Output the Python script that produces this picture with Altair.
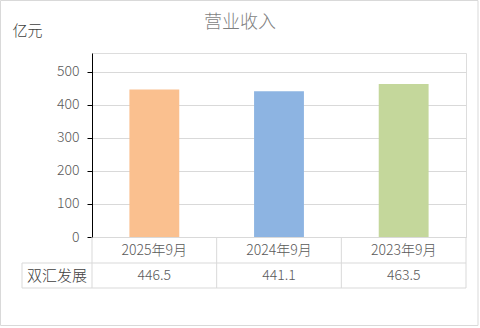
import altair as alt
import pandas as pd

categories = ["2025年9月", "2024年9月", "2023年9月"]
values = [446.5, 441.1, 463.5]
colors = ["#FAC08F", "#8DB4E2", "#C4D79B"]
series_name = "双汇发展"
y_ticks = [0, 100, 200, 300, 400, 500]

df = pd.DataFrame({"cat": categories, "val": values})

FONT = "Noto Sans CJK SC"
W, H = 374, 184

x_enc = alt.X("cat:N", sort=categories,
              scale=alt.Scale(paddingInner=0.6, paddingOuter=0.3),
              axis=alt.Axis(title=None, labelAngle=0, ticks=False, domain=True,
                            domainColor="#D9D9D9", labelPadding=6,
                            labelFontSize=14, labelColor="#595959", labelFont=FONT,
                            labelFontWeight=300))

bars = alt.Chart(df).mark_bar().encode(
    x=x_enc,
    y=alt.Y("val:Q", scale=alt.Scale(domain=[0, 557], nice=False),
            axis=alt.Axis(values=y_ticks, title="亿元", titleAngle=0,
                          titleX=-65, titleY=-23, titleAlign="center",
                          titleBaseline="middle", titleFontSize=15,
                          titleFontWeight=300, titleColor="#404040",
                          titleFont=FONT,
                          domainColor="#000000", tickColor="#000000", tickSize=5,
                          labelPadding=8, labelFontSize=14, labelColor="#595959",
                          labelFont=FONT, labelFontWeight=300, gridColor="#D9D9D9")),
    color=alt.Color("cat:N", scale=alt.Scale(domain=categories, range=colors),
                    legend=None),
)

value_text = alt.Chart(df).mark_text(fontSize=14, color="#595959", font=FONT,
                                     fontWeight=300, baseline="middle").encode(
    x=alt.X("cat:N", sort=categories),
    y=alt.value(222.5),
    text=alt.Text("val:Q", format=".1f"),
)

row_label = alt.Chart(pd.DataFrame({"name": [series_name]})).mark_text(
    fontSize=15, color="#404040", font=FONT, fontWeight=300, baseline="middle").encode(
    x=alt.value(-35), y=alt.value(222.5), text="name:N")

grid_color = "#D9D9D9"
h_lines = alt.Chart(pd.DataFrame({"i": [0]})).mark_rule(color=grid_color).encode(
    x=alt.value(-70), x2=alt.value(W), y=alt.value(210))
h_lines2 = alt.Chart(pd.DataFrame({"i": [0]})).mark_rule(color=grid_color).encode(
    x=alt.value(-70), x2=alt.value(W), y=alt.value(235))
v_left = alt.Chart(pd.DataFrame({"i": [0]})).mark_rule(color=grid_color).encode(
    x=alt.value(-70), y=alt.value(210), y2=alt.value(235))
step = W / 3
v_lines = [
    alt.Chart(pd.DataFrame({"i": [0]})).mark_rule(color=grid_color).encode(
        x=alt.value(k * step), y=alt.value(H), y2=alt.value(235))
    for k in range(4)
]

border = alt.Chart(pd.DataFrame({"i": [0]})).mark_rect(
    fill=None, stroke="#D9D9D9", strokeWidth=1).encode(
    x=alt.value(-91.5), x2=alt.value(386), y=alt.value(-52.5), y2=alt.value(272.5))

title = alt.Chart(pd.DataFrame({"t": ["营业收入"]})).mark_text(
    fontSize=18, color="#7F7F7F", font=FONT, fontWeight=300, baseline="middle").encode(
    x=alt.value(240 - 92), y=alt.value(23 - 53), text="t:N")

chart = alt.layer(border, bars, value_text, row_label, h_lines, h_lines2, v_left,
                  *v_lines, title).properties(
    width=W, height=H,
    autosize=alt.AutoSizeParams(type="none"),
    padding={"left": 92, "top": 53, "right": 14, "bottom": 91},
).configure_view(stroke=None).configure(background="white")

chart.save("out.html", embed_options={"renderer": "svg", "actions": False})
